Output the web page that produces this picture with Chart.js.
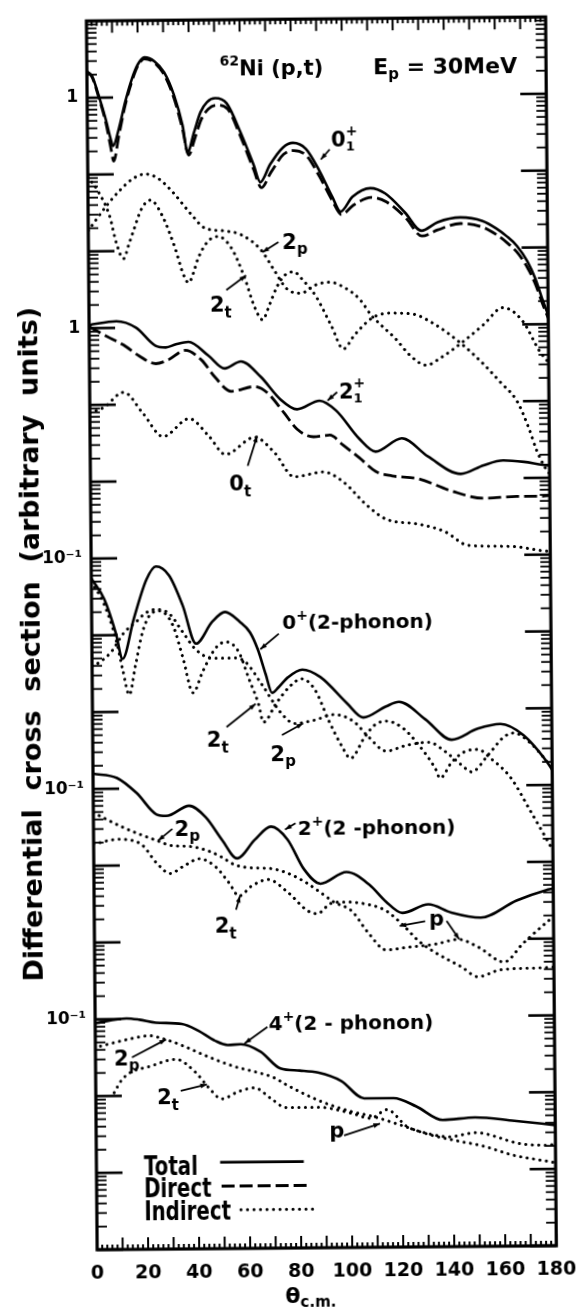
<!DOCTYPE html>
<html>
<head>
<meta charset="utf-8">
<script src="https://cdn.jsdelivr.net/npm/chart.js@4.4.1/dist/chart.umd.min.js"></script>
<style>
  body { margin: 0; background: #fff; }
  #wrap { width: 584px; height: 1313px; transform: rotate(-0.5deg); transform-origin: 50% 50%; }
</style>
</head>
<body>
<div id="wrap"><canvas id="xsec" width="584" height="1313"></canvas></div>
<script>
// angle ticks (deg, c.m.) and the decade labels on the shared log axis
const angleTicks = [0, 20, 40, 60, 80, 100, 120, 140, 160, 180];
const decadeTicks = [1, 1e-3, 1e-6, 1e-9, 1e-12];
const decadeLabels = ['1', '1', '10⁻¹', '10⁻¹', '10⁻¹'];

// 0+1 ground state: [theta, dsigma]
const gsTotal = [[0, 2.19], [2, 1.91], [4.6, 1.05], [7.2, 0.525], [9.1, 0.288], [10, 0.234], [12.3, 0.389], [14.9, 0.871], [17.5, 1.70], [20, 2.69], [22.6, 3.31], [26.4, 2.95], [30.3, 2.09], [34.1, 1.05], [37.3, 0.427], [39.2, 0.191], [41.8, 0.347], [44.4, 0.631], [47, 0.851], [50.2, 0.955], [54.7, 0.813], [59.9, 0.347], [65, 0.129], [67.6, 0.0759], [71.5, 0.129], [76.6, 0.214], [80.5, 0.245], [85.6, 0.204], [90.7, 0.107], [95.8, 0.0479], [99, 0.0309], [103.7, 0.0479], [110.7, 0.0617], [116.5, 0.0525], [124.2, 0.0295], [130.6, 0.0170], [137, 0.0219], [145.9, 0.0251], [154.6, 0.0224], [160, 0.0178], [164, 0.0141], [168, 0.0105], [172, 0.00661], [175, 0.00398], [178, 0.00200], [180, 0.00132]];
const gsDirect = [[0, 2.19], [2, 1.86], [4.6, 1.0], [7.2, 0.479], [9.1, 0.224], [10.2, 0.148], [12.3, 0.316], [14.9, 0.794], [17.5, 1.58], [20, 2.57], [22.6, 3.16], [26.4, 2.82], [30.3, 1.95], [34.1, 0.955], [37.3, 0.380], [39.6, 0.174], [42, 0.282], [44.6, 0.501], [47.5, 0.692], [50.8, 0.776], [55, 0.692], [60, 0.302], [65, 0.112], [68, 0.0646], [71.8, 0.102], [76.8, 0.174], [80.8, 0.195], [85.8, 0.166], [90.8, 0.0891], [95.8, 0.0427], [99.3, 0.0282], [104, 0.0372], [111, 0.0468], [117, 0.0407], [124.5, 0.0251], [130.8, 0.0145], [137, 0.0174], [146, 0.0209], [154.6, 0.0186], [160, 0.0148], [164, 0.0117], [168, 0.00871], [172, 0.00550], [175, 0.00339], [178, 0.00178], [180, 0.00120]];
const gs2p = [[0, 0.0186], [7.2, 0.0389], [12.2, 0.0603], [17.6, 0.0871], [22.6, 0.100], [27.6, 0.0871], [33, 0.0589], [40.7, 0.0288], [45.7, 0.0195], [53.4, 0.0178], [59.9, 0.0158], [67.6, 0.0100], [72.6, 0.00550], [77.6, 0.00309], [83, 0.00269], [89.2, 0.00347], [94.5, 0.00372], [100.7, 0.00309], [106, 0.00224], [111, 0.00132], [114, 0.00105], [120, 0.000676], [126, 0.000398], [132, 0.000302], [138, 0.000380], [145.7, 0.000575], [154.6, 0.00100], [162.3, 0.00166], [170, 0.00110], [176.5, 0.000447], [180, 0.000316]];
const gs2t = [[0, 0.0933], [4, 0.0603], [8.4, 0.0288], [11, 0.0126], [13.7, 0.00794], [16, 0.0126], [17.6, 0.0178], [21, 0.0355], [24.5, 0.0457], [29, 0.0288], [34, 0.0107], [37, 0.00501], [39.2, 0.00380], [41, 0.00501], [43, 0.00794], [47, 0.0132], [50.8, 0.0151], [56, 0.0107], [61, 0.00447], [65, 0.00178], [68, 0.00123], [71, 0.00200], [73.8, 0.00331], [77, 0.00468], [80.3, 0.00513], [84, 0.00398], [89, 0.00245], [95, 0.00100], [99.6, 0.000501], [104, 0.000759], [111, 0.00126], [118, 0.00145], [126.5, 0.00141], [135, 0.00105], [145.7, 0.000575], [154.7, 0.000302], [161, 0.000178], [167.5, 0.000100], [172, 0.0000447], [175, 0.0000229], [178, 0.0000141], [180, 0.0000112]];

// 2+1 state
const ex2Total = [[0, 1.10], [10.7, 1.22], [18.4, 1.0], [26, 0.579], [30, 0.550], [34, 0.603], [38.9, 0.646], [46.6, 0.427], [53, 0.288], [59.4, 0.355], [67, 0.224], [74.8, 0.112], [81.2, 0.0832], [90.1, 0.107], [96.5, 0.0794], [105.5, 0.0339], [111.9, 0.0229], [122.2, 0.0339], [132.4, 0.0195], [145.2, 0.0115], [154.2, 0.0148], [161.9, 0.0170], [170, 0.0162], [177.3, 0.0148], [180, 0.0145]];
const ex2Direct = [[0, 1.05], [8.1, 0.741], [13.3, 0.603], [19.6, 0.427], [26, 0.339], [31, 0.380], [37.6, 0.501], [44, 0.372], [49.1, 0.224], [55.5, 0.145], [64.5, 0.166], [69.6, 0.138], [76, 0.0759], [81.2, 0.0457], [87.6, 0.0363], [94, 0.0380], [99.1, 0.0282], [105.5, 0.0191], [111.9, 0.0126], [118.3, 0.0110], [128.6, 0.0100], [141.4, 0.00692], [154.2, 0.00550], [167, 0.00575], [177.3, 0.00575], [180, 0.00589]];
const ex2Ind = [[0, 0.0794], [5.6, 0.0933], [13.3, 0.145], [20.9, 0.0759], [28.6, 0.0380], [38.9, 0.0646], [46.6, 0.0380], [53, 0.0219], [64.5, 0.0363], [72.2, 0.0229], [79.9, 0.0110], [91.4, 0.0126], [99.1, 0.00933], [108, 0.00468], [115.7, 0.00302], [128.6, 0.00257], [138.8, 0.00204], [147.8, 0.00135], [164.4, 0.00129], [177.3, 0.00112], [180, 0.00110]];

// 0+ two-phonon
const ph0Total = [[0, 0.0550], [5, 0.0295], [9.4, 0.0107], [12, 0.00490], [16.5, 0.0162], [21.6, 0.0525], [25.4, 0.0776], [30.5, 0.0589], [35.7, 0.0240], [40.8, 0.00759], [47.2, 0.0145], [52.3, 0.0195], [58, 0.0145], [62, 0.0105], [65, 0.00630], [68, 0.00300], [70.5, 0.00170], [73, 0.00200], [76.7, 0.00269], [82.4, 0.00339], [89.5, 0.00269], [99.7, 0.00123], [106.1, 0.000794], [115.1, 0.00110], [120.2, 0.00126], [130.4, 0.000741], [140.7, 0.000398], [150.9, 0.000550], [159.9, 0.000631], [168.9, 0.000447], [177.8, 0.000204], [180, 0.000158]];
const ph0t = [[0, 0.0501], [5, 0.0251], [9.4, 0.00891], [12, 0.00355], [14.5, 0.00166], [17, 0.00398], [20, 0.0112], [23.5, 0.0191], [26.7, 0.0204], [31.8, 0.0132], [35.7, 0.00490], [39.5, 0.00174], [43.4, 0.00331], [48.5, 0.00661], [52.4, 0.00794], [57.5, 0.00589], [61.3, 0.00269], [65.1, 0.00123], [67, 0.000708], [72, 0.00123], [77.1, 0.00200], [82.2, 0.00257], [87.4, 0.00182], [92.5, 0.000741], [97.6, 0.000339], [101, 0.000234], [106.7, 0.000447], [110.6, 0.000631], [115.1, 0.000708], [121.5, 0.000575], [127.9, 0.000339], [134.3, 0.000166], [136, 0.000126], [140.7, 0.000204], [147.1, 0.000288], [151, 0.000295], [156, 0.000224], [163.7, 0.000126], [171.4, 0.0000457], [176.5, 0.0000229], [180, 0.0000141]];
const ph0p = [[0, 0.00398], [3, 0.00447], [7.5, 0.00603], [12.6, 0.0107], [17.7, 0.0151], [21, 0.0191], [25.4, 0.0214], [30.5, 0.0186], [35.7, 0.0107], [40.8, 0.00631], [47.2, 0.00490], [54.9, 0.00490], [60, 0.00437], [66.5, 0.00219], [74.1, 0.000912], [79.2, 0.000676], [86.9, 0.000741], [94.6, 0.000871], [102.3, 0.000708], [108, 0.000447], [115, 0.000288], [122.8, 0.000339], [131.7, 0.000372], [138, 0.000282], [144.5, 0.000186], [148.4, 0.000151], [155, 0.000251], [161.2, 0.000427], [165.1, 0.000479], [171.5, 0.000355], [177.9, 0.000204], [180, 0.000166]];

// 2+ two-phonon
const ph2Total = [[0, 0.158], [9.4, 0.138], [17.1, 0.0871], [24.8, 0.0457], [28.6, 0.0437], [37.6, 0.0589], [44, 0.0417], [50.4, 0.0209], [56.2, 0.0120], [63.2, 0.0209], [69.6, 0.0309], [76, 0.0209], [82.4, 0.00851], [88.8, 0.00550], [99, 0.00776], [108, 0.00525], [114.4, 0.00316], [120.8, 0.00224], [131, 0.00288], [140, 0.00224], [151.5, 0.00191], [165.6, 0.00316], [177.1, 0.00427], [180, 0.00447]];
const ph2p = [[0, 0.0490], [12, 0.0309], [24.8, 0.0209], [31, 0.0178], [37.6, 0.0174], [45, 0.0151], [50, 0.0126], [55, 0.0100], [60, 0.00912], [65, 0.00891], [70, 0.00871], [76, 0.00759], [83, 0.00575], [89, 0.00417], [94, 0.00316], [101, 0.00240], [107, 0.00129], [114.4, 0.000741], [122, 0.000794], [133.6, 0.000871], [142.6, 0.00100], [150.3, 0.000794], [160.5, 0.000501], [168, 0.000871], [178.4, 0.00174], [180, 0.00191]];
const ph2t = [[0, 0.0191], [9.4, 0.0219], [18.4, 0.0191], [24.8, 0.0105], [29.9, 0.00776], [35, 0.00955], [41.4, 0.0120], [47.8, 0.00933], [53, 0.00575], [56.8, 0.00389], [61.9, 0.00525], [68.3, 0.00631], [76, 0.00427], [83.7, 0.00245], [87.5, 0.00224], [92.6, 0.00302], [97.8, 0.00316], [108, 0.00288], [114.4, 0.00240], [120.8, 0.00158], [127.2, 0.000955], [133.6, 0.000676], [143.8, 0.000437], [150.2, 0.000324], [159.2, 0.000398], [175.8, 0.000417], [180, 0.000427]];

// 4+ two-phonon
const ph4Total = [[0, 0.0891], [12.3, 0.102], [17.4, 0.0977], [23.8, 0.0891], [34, 0.0851], [40.4, 0.0692], [46.8, 0.0513], [51.9, 0.0447], [57, 0.0457], [64.7, 0.0363], [72.4, 0.0219], [80, 0.0204], [87.2, 0.0191], [96.2, 0.0148], [105.2, 0.00871], [116.7, 0.00871], [125.6, 0.00676], [135.9, 0.00447], [148.6, 0.00479], [164, 0.00427], [180, 0.00372]];
const ph4p = [[2, 0.0447], [13.5, 0.0550], [21.2, 0.0603], [26.4, 0.0550], [34, 0.0447], [44.2, 0.0316], [54.5, 0.0234], [62.2, 0.0200], [69.9, 0.0166], [74.5, 0.0135], [87.2, 0.00832], [100, 0.00589], [109, 0.00501], [119.2, 0.00389], [130.8, 0.00288], [141, 0.00240], [151.2, 0.00204], [164, 0.00151], [176.8, 0.00126], [180, 0.00120]];
const ph4t = [[7.2, 0.0110], [10, 0.0158], [13.5, 0.0200], [21.2, 0.0240], [31.5, 0.0295], [39.1, 0.0200], [44.2, 0.0126], [49.4, 0.00891], [55.8, 0.0110], [62.2, 0.0123], [68.6, 0.00891], [74.5, 0.00676], [87.2, 0.00676], [100, 0.00562], [107.7, 0.00479], [114.1, 0.00617], [121.8, 0.00372], [129.5, 0.00302], [138.4, 0.00269], [148.6, 0.00302], [166.6, 0.00214], [176.8, 0.00204], [180, 0.00209]];

// each state is shifted down the common axis
const stateShift = { gs: 1, ex2: 1e-3, ph0: 1e-5, ph2: 1e-8, ph4: 1e-11 };

const curves = [
  [gsTotal, 'gs', 'total'], [gsDirect, 'gs', 'direct'], [gs2p, 'gs', 'indirect'], [gs2t, 'gs', 'indirect'],
  [ex2Total, 'ex2', 'total'], [ex2Direct, 'ex2', 'direct'], [ex2Ind, 'ex2', 'indirect'],
  [ph0Total, 'ph0', 'total'], [ph0t, 'ph0', 'indirect'], [ph0p, 'ph0', 'indirect'],
  [ph2Total, 'ph2', 'total'], [ph2p, 'ph2', 'indirect'], [ph2t, 'ph2', 'indirect'],
  [ph4Total, 'ph4', 'total'], [ph4p, 'ph4', 'indirect'], [ph4t, 'ph4', 'indirect']
];

const lineStyle = {
  total: { borderWidth: 2.6, borderDash: [], borderCapStyle: 'butt' },
  direct: { borderWidth: 2.8, borderDash: [13, 5], borderCapStyle: 'butt' },
  indirect: { borderWidth: 3, borderDash: [0.1, 6.4], borderCapStyle: 'round' }
};

const FONT = '"DejaVu Sans", sans-serif';

// labels on the curves: anchor [theta, log10 y], pointer segments [from, to]
const notes = [
  { at: [52.0, 0.276], runs: [['62', 14, -10], ['Ni (p,t)', 21]] },
  { at: [112.2, 0.276], runs: [['E', 22], ['p', 15, 5], [' = 30MeV', 22]] },
  { at: [95.5, -0.669], runs: [['0', 21], ['+', 14, -11, true], ['1', 13, 4]], ptrs: [[[94.9, -0.70], [91.4, -0.83]]] },
  { at: [76.0, -1.988], runs: [['2', 21], ['p', 15, 5]], ptrs: [[[74.5, -1.90], [68.2, -2.03]]] },
  { at: [47.4, -2.803], runs: [['2', 21], ['t', 15, 6]], ptrs: [[[53.9, -2.52], [61.7, -2.33]]] },
  { at: [97.7, -3.941], runs: [['2', 21], ['+', 14, -11, true], ['1', 13, 4]], ptrs: [[[97.0, -3.86], [93.2, -3.97]]] },
  { at: [54.4, -5.131], runs: [['0', 21], ['t', 15, 6]], ptrs: [[[61.7, -4.81], [65.5, -4.42]]] },
  { at: [74.7, -6.942], runs: [['0', 20], ['+', 14, -9], ['(2-phonon)', 20]], ptrs: [[[73.3, -7.0], [66.0, -7.2]]] },
  { at: [44.7, -8.468], runs: [['2', 21], ['t', 15, 6]], ptrs: [[[52.5, -8.21], [64.0, -7.91]]] },
  { at: [69.6, -8.662], runs: [['2', 21], ['p', 15, 5]], ptrs: [[[74.2, -8.32], [82.5, -8.17]]] },
  { at: [31.8, -9.620], runs: [['2', 21], ['p', 15, 5]], ptrs: [[[30.9, -9.53], [25.3, -9.68]]] },
  { at: [80.1, -9.620], runs: [['2', 20], ['+', 14, -9], ['(2 -phonon)', 20]], ptrs: [[[79.2, -9.47], [75.1, -9.55]]] },
  { at: [47.2, -10.887], runs: [['2', 21], ['t', 15, 6]], ptrs: [[[55.6, -10.59], [57.2, -10.41]]] },
  { at: [131.2, -10.823], runs: [['p', 21]], ptrs: [[[129.7, -10.76], [119.7, -10.82]], [[138.1, -10.76], [143.0, -11.0]]] },
  { at: [68.0, -12.155], runs: [['4', 20], ['+', 14, -9], ['(2 - phonon)', 20]], ptrs: [[[67.5, -12.12], [58.5, -12.33]]] },
  { at: [7.3, -12.608], runs: [['2', 21], ['p', 15, 5]], ptrs: [[[14.3, -12.50], [27.7, -12.27]]] },
  { at: [24.0, -13.112], runs: [['2', 21], ['t', 15, 6]], ptrs: [[[33.3, -12.94], [43.6, -12.86]]] },
  { at: [91.4, -13.565], runs: [['p', 21]], ptrs: [[[97.2, -13.54], [111.3, -13.39]]] }
];

const legendRows = [
  { text: 'Total', kind: 'total', at: [18.6, -14.03], line: [48.5, 81.3, -13.875] },
  { text: 'Direct', kind: 'direct', at: [18.6, -14.328], line: [49.0, 83.5, -14.186] },
  { text: 'Indirect', kind: 'indirect', at: [18.6, -14.625], line: [56.5, 85.0, -14.496] }
];

function drawRuns(ctx, runs, x, y) {
  let cx = x;
  for (const [text, size, dy = 0, hold = false] of runs) {
    ctx.font = `bold ${size}px ${FONT}`;
    ctx.fillText(text, cx, y + dy);
    if (!hold) cx += ctx.measureText(text).width;
  }
}

const frame = {
  id: 'frame',
  afterDatasetsDraw(chart) {
    const { ctx, chartArea: a, scales: { x, y } } = chart;
    const seg = (x0, y0, x1, y1, w) => {
      ctx.lineWidth = w;
      ctx.beginPath(); ctx.moveTo(x0, y0); ctx.lineTo(x1, y1); ctx.stroke();
    };
    ctx.save();
    ctx.strokeStyle = '#000';
    // inward log ticks on both sides
    for (let e = -15; e <= 0; e++) {
      for (let m = 1; m <= 9; m++) {
        const py = y.getPixelForValue(m * Math.pow(10, e));
        const len = m === 1 ? 26 : 10;
        const w = m === 1 ? 2.6 : 1.8;
        seg(a.left, py, a.left + len, py, w);
        seg(a.right, py, a.right - len, py, w);
      }
    }
    // angle ticks top and bottom
    for (let t = 0; t <= 180; t += 2) {
      const px = x.getPixelForValue(t);
      const len = t % 10 === 0 ? 12 : 5;
      seg(px, a.top, px, a.top + len, 2);
      seg(px, a.bottom, px, a.bottom - len, 2);
    }
    ctx.lineWidth = 3.2;
    ctx.strokeRect(a.left, a.top, a.right - a.left, a.bottom - a.top);
    ctx.restore();
  },
  afterDraw(chart) {
    const { ctx, chartArea: a, scales: { x, y } } = chart;
    const at = (t, g) => [x.getPixelForValue(t), y.getPixelForValue(Math.pow(10, g))];
    ctx.save();
    ctx.fillStyle = '#000';
    ctx.strokeStyle = '#000';
    ctx.textBaseline = 'alphabetic';

    for (const n of notes) {
      const [px, py] = at(...n.at);
      drawRuns(ctx, n.runs, px, py);
      for (const [from, to] of (n.ptrs || [])) {
        const [x0, y0] = at(...from);
        const [x1, y1] = at(...to);
        ctx.lineWidth = 1.8;
        ctx.beginPath(); ctx.moveTo(x0, y0); ctx.lineTo(x1, y1); ctx.stroke();
        const ang = Math.atan2(y1 - y0, x1 - x0);
        ctx.beginPath();
        ctx.moveTo(x1, y1);
        ctx.lineTo(x1 - 7 * Math.cos(ang - 0.35), y1 - 7 * Math.sin(ang - 0.35));
        ctx.lineTo(x1 - 7 * Math.cos(ang + 0.35), y1 - 7 * Math.sin(ang + 0.35));
        ctx.closePath(); ctx.fill();
      }
    }

    // legend with line samples
    for (const row of legendRows) {
      const [tx, ty] = at(...row.at);
      ctx.save();
      ctx.translate(tx, ty);
      ctx.scale(0.76, 1);
      ctx.font = `bold 26px ${FONT}`;
      ctx.fillText(row.text, 0, 0);
      ctx.restore();
      const st = lineStyle[row.kind];
      const [x0, ly] = at(row.line[0], row.line[2]);
      const [x1] = at(row.line[1], row.line[2]);
      ctx.save();
      ctx.lineWidth = st.borderWidth;
      ctx.setLineDash(st.borderDash);
      ctx.lineCap = st.borderCapStyle;
      ctx.beginPath(); ctx.moveTo(x0, ly); ctx.lineTo(x1, ly); ctx.stroke();
      ctx.restore();
    }

    // axis titles
    ctx.save();
    ctx.translate(31, 642);
    ctx.rotate(-Math.PI / 2);
    ctx.textAlign = 'center';
    ctx.font = `bold 27px ${FONT}`;
    ctx.fillText('Differential  cross  section  (arbitrary  units)', 0, 9);
    ctx.restore();

    const tx = x.getPixelForValue(73.6);
    drawRuns(ctx, [['θ', 22], ['c.m.', 15, 4]], tx, a.bottom + 55);
    ctx.restore();
  }
};

new Chart(document.getElementById('xsec'), {
  type: 'line',
  data: {
    datasets: curves.map(([pts, state, kind]) => ({
      data: pts.map(([t, v]) => ({ x: t, y: v * stateShift[state] })),
      borderColor: '#000',
      backgroundColor: '#000',
      pointRadius: 0,
      fill: false,
      cubicInterpolationMode: 'monotone',
      borderJoinStyle: 'round',
      ...lineStyle[kind]
    }))
  },
  options: {
    responsive: false,
    devicePixelRatio: 1,
    animation: false,
    layout: { padding: { top: 11, right: 22, left: 0, bottom: 0 } },
    plugins: { legend: { display: false }, tooltip: { enabled: false } },
    scales: {
      x: {
        type: 'linear',
        min: 0,
        max: 180,
        afterBuildTicks: s => { s.ticks = angleTicks.map(v => ({ value: v })); },
        afterFit: s => { s.height = 65; },
        grid: { display: false, drawTicks: false },
        border: { display: false },
        ticks: {
          autoSkip: false,
          maxRotation: 0,
          padding: 13,
          color: '#000',
          font: { family: FONT, size: 19, weight: 'bold' }
        }
      },
      y: {
        type: 'logarithmic',
        min: 1e-15,
        max: 10,
        afterBuildTicks: s => { s.ticks = decadeTicks.map(v => ({ value: v })); },
        afterFit: s => { s.width = 92; },
        grid: { display: false, drawTicks: false },
        border: { display: false },
        ticks: {
          padding: 9,
          color: '#000',
          font: { family: FONT, size: 17, weight: 'bold' },
          callback: (value, i) => decadeLabels[i]
        }
      }
    }
  },
  plugins: [frame]
});
</script>
</body>
</html>
